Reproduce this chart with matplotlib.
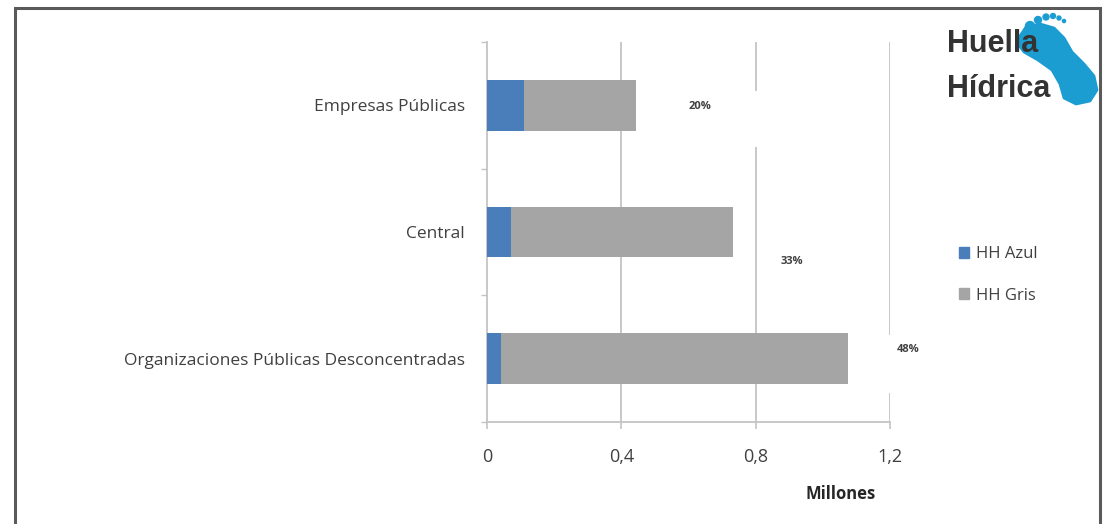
import matplotlib
matplotlib.use('Agg')
import matplotlib.pyplot as plt
from matplotlib import patches

plt.rcParams['font.family'] = ['Open Sans', 'DejaVu Sans']

# Water footprint by public sector group (millions of m3)
categorias = ['Organizaciones Públicas Desconcentradas', 'Central', 'Empresas Públicas']
hh_azul = [0.042, 0.071, 0.110]
hh_gris = [1.033, 0.662, 0.334]
series = ['HH Azul', 'HH Gris']
ticks_x = [0, 0.4, 0.8, 1.2]
ticks_x_lbl = ['0', '0,4', '0,8', '1,2']

azul = '#4a7ebb'
gris = '#a5a5a5'
txt = '#404040'
linea = '#c4c4c4'
logo_azul = '#1c9dd2'

W, H = 1107, 524
fig = plt.figure(figsize=(W / 100, H / 100), dpi=100)
fig.patch.set_facecolor('white')

def fx(px):
    return px / W

def fy(py):
    return 1 - py / H

ax = fig.add_axes([fx(487), fy(422), fx(890) - fx(487), fy(42) - fy(422)])

pos = list(range(len(categorias)))
totales = [a + g for a, g in zip(hh_azul, hh_gris)]
suma = sum(totales)

ax.barh(pos, hh_azul, height=0.4, color=azul, zorder=3)
ax.barh(pos, hh_gris, left=hh_azul, height=0.4, color=gris, zorder=3)

ax.set_xlim(0, 1.2)
ax.set_ylim(-0.5, 2.5)
ax.set_xticks(ticks_x)
ax.set_xticklabels(ticks_x_lbl)
ax.set_yticks(pos)
ax.set_yticklabels(categorias)
ax.set_yticks([-0.5, 0.5, 1.5, 2.5], minor=True)
ax.tick_params(axis='y', which='major', length=0, pad=16, labelsize=12.5, labelcolor=txt)
ax.tick_params(axis='y', which='minor', length=4, color=linea, width=1)
ax.tick_params(axis='x', which='major', length=5, color=linea, width=1.2, pad=14,
               labelsize=13, labelcolor=txt)

for s in ['top', 'right']:
    ax.spines[s].set_visible(False)
for s in ['left', 'bottom']:
    ax.spines[s].set_color(linea)
    ax.spines[s].set_linewidth(1.3)

for x in ticks_x[1:]:
    ax.axvline(x, color=linea, lw=1.3, zorder=1)

# share of each group in the total, with white label boxes over the gridlines
etiquetas = [
    # (x, y, box x0, box y0, box width, box height)
    (1.254, 0.07, 1.15, -0.27, 0.2, 0.46),
    (0.908, 0.77, 0.85, 0.60, 0.12, 0.30),
    (0.634, 1.99, 0.55, 1.67, 0.30, 0.44),
]
for (x, y, bx, by, bw, bh), t in zip(etiquetas, totales):
    ax.add_patch(patches.Rectangle((bx, by), bw, bh, facecolor='white',
                                   edgecolor='none', zorder=2, clip_on=False))
    ax.text(x, y, '%d%%' % round(100 * t / suma), ha='center', va='center',
            fontsize=8, fontweight='bold', color=txt, zorder=4, clip_on=False)

fig.text(fx(841), fy(494), 'Millones', ha='center', va='center',
         fontsize=12, fontweight='bold', color='#262626')

handles = [patches.Patch(color=azul), patches.Patch(color=gris)]
fig.legend(handles, series, loc='center left', bbox_to_anchor=(fx(944), fy(275)),
           frameon=False, fontsize=12, labelcolor=txt, handlelength=0.6,
           handleheight=0.6, handletextpad=0.4, labelspacing=1.5)

# outer frame (bottom edge is cut off)
fig.add_artist(patches.Rectangle((fx(15), fy(540)), fx(1100) - fx(15), fy(8) - fy(540),
                                 transform=fig.transFigure, fill=False,
                                 edgecolor='#5a5a5a', lw=2.2, clip_on=False))

# logo: foot behind the lettering
pie = [(1020, 36), (1026, 27), (1040, 24), (1054, 28), (1064, 38), (1072, 52),
       (1084, 64), (1094, 76), (1097, 90), (1090, 101), (1076, 104), (1064, 98),
       (1060, 84), (1052, 70), (1038, 60), (1024, 52), (1018, 44)]
fig.add_artist(patches.Polygon([(fx(a), fy(b)) for a, b in pie], closed=True,
                               transform=fig.transFigure, facecolor=logo_azul,
                               edgecolor=logo_azul, joinstyle='round', lw=2, zorder=1))
dedos = [(1030, 26, 4.5), (1038, 20, 3.5), (1046, 17, 3), (1053, 16, 2.5),
         (1059, 18, 2), (1064, 21, 1.6)]
for a, b, r in dedos:
    fig.add_artist(patches.Ellipse((fx(a), fy(b)), 2 * r / W, 2 * r / H,
                                   transform=fig.transFigure, color=logo_azul, zorder=1))
fig.text(fx(947), fy(52), 'Huella', ha='left', va='baseline', fontsize=22,
         fontweight='bold', color='#333333', family='Liberation Sans', zorder=5)
fig.text(fx(947), fy(97), 'Hídrica', ha='left', va='baseline', fontsize=22,
         fontweight='bold', color='#333333', family='Liberation Sans', zorder=5)

fig.savefig('out.png', dpi=100)
